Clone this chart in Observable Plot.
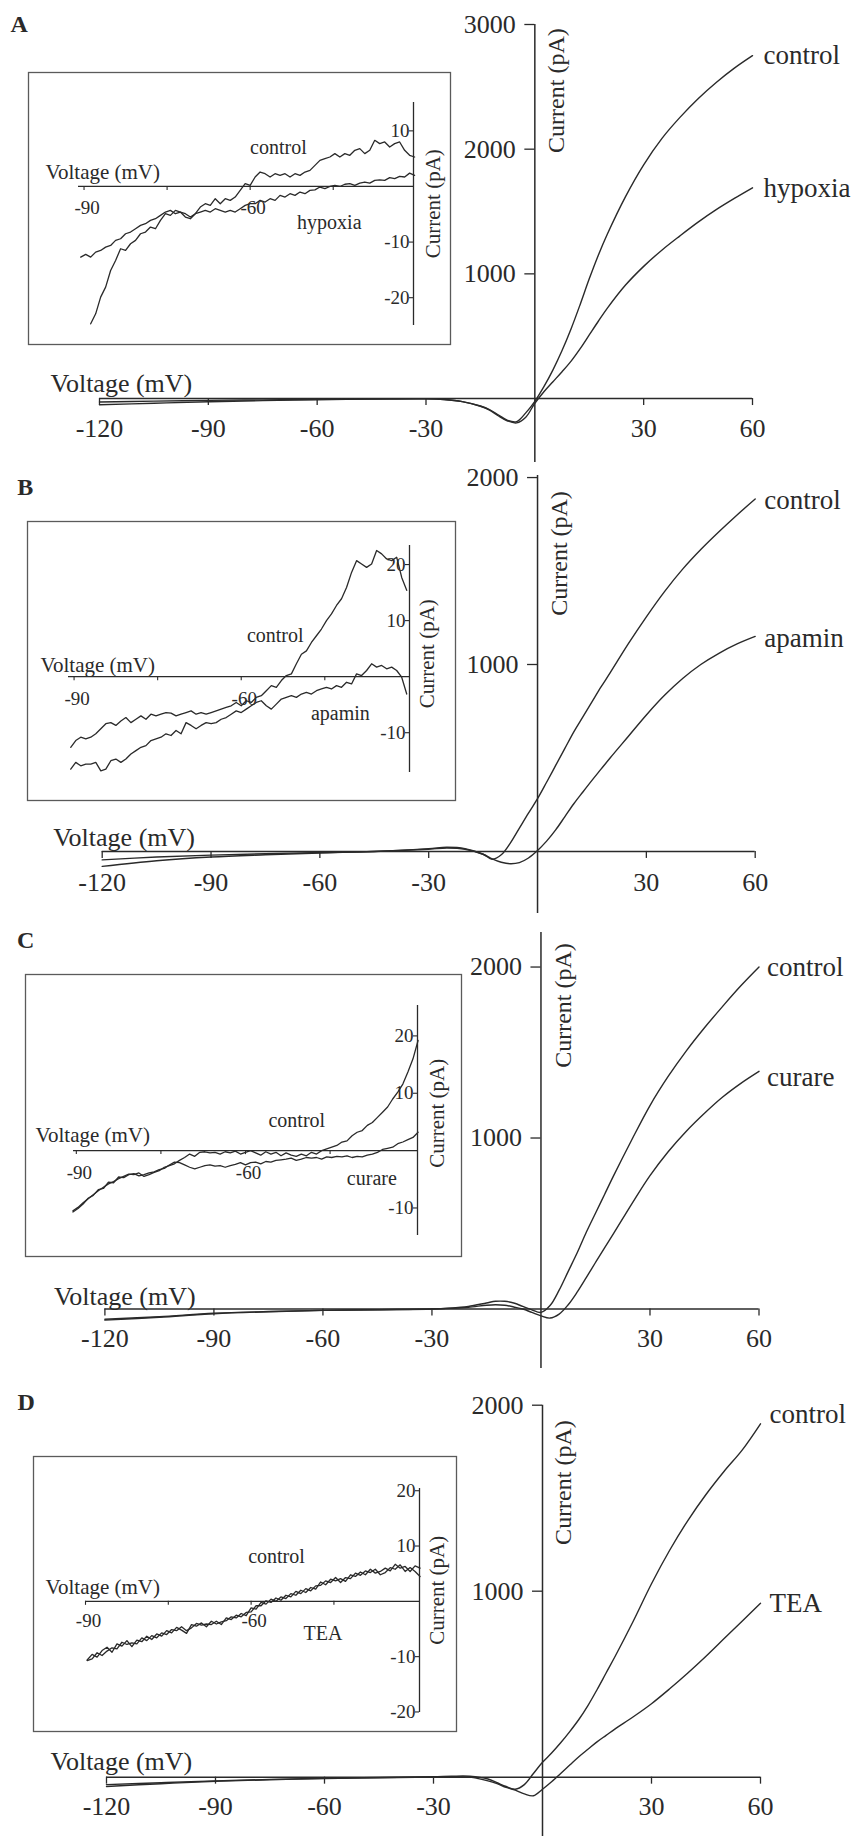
<!DOCTYPE html>
<html>
<head>
<meta charset="utf-8">
<script src="https://cdn.jsdelivr.net/npm/d3@7"></script>
<script src="https://cdn.jsdelivr.net/npm/@observablehq/plot@0.6"></script>
<style>
html, body { margin: 0; padding: 0; background: #fff; }
#fig { position: relative; width: 855px; height: 1836px; overflow: hidden; background: #fff; }
</style>
</head>
<body>
<div id="fig"></div>
<script>
const FONT = "'Liberation Serif', 'Times New Roman', serif";
const INK = "#2a2a2a";

// ---------- main I–V curves (voltage in mV, current in pA) ----------
const mainV = [-120,-105,-90,-75,-60,-45,-30,-25,-20,-15,-12.5,-10,-7.5,-5,-2.5,0,2.5,5,7.5,10,12.5,15,17.5,20,25,30,35,40,45,50,55,60];
const mainXTicks = [-120,-90,-60,-30,30,60];

const A_control = [-50,-38,-26,-17,-10,-5,-2,-8,-25,-60,-88,-132,-175,-185,-115,-22,95,230,385,560,755,960,1150,1320,1620,1875,2085,2255,2405,2535,2650,2750];
const A_hypoxia = [-28,-21,-15,-11,-7,-4,-2,-8,-25,-62,-92,-140,-180,-195,-150,-38,55,135,215,300,400,510,620,725,910,1060,1190,1305,1415,1515,1605,1690];

const B_control = [-45,-30,-20,-12,-6,0,15,22,15,-15,-42,-18,45,125,205,282,370,460,550,640,720,800,880,955,1110,1255,1390,1510,1615,1710,1800,1885];
const B_apamin  = [-80,-50,-30,-18,-8,0,12,18,12,-15,-40,-58,-66,-60,-35,5,55,115,185,255,318,380,440,500,615,730,835,925,1000,1060,1110,1150];

const C_control = [-60,-45,-25,-15,-8,-4,0,5,15,35,45,45,35,15,-5,-20,20,110,220,330,450,560,670,780,990,1190,1360,1510,1645,1770,1890,2000];
const C_curare  = [-65,-48,-28,-16,-8,-4,0,4,10,22,25,22,12,0,-20,-40,-53,-30,25,100,185,272,358,442,615,780,920,1040,1145,1240,1320,1390];

const D_control = [-40,-30,-20,-12,-6,-2,2,5,5,-10,-30,-50,-65,-40,20,80,130,185,245,310,385,470,560,650,840,1040,1220,1380,1520,1645,1760,1900];
const D_TEA     = [-50,-35,-22,-14,-7,-3,1,3,0,-20,-35,-55,-70,-90,-100,-65,-25,20,65,110,150,190,225,260,325,395,475,560,650,745,840,935];

// ---------- insets (voltage in mV, current in pA) ----------
const insetV = [-90.6,-89.7,-88.8,-87.9,-87.0,-86.1,-85.2,-84.3,-83.4,-82.5,
  -81.6,-80.7,-79.8,-78.9,-78.0,-77.1,-76.2,-75.3,-74.4,-73.5,
  -72.6,-71.7,-70.8,-69.9,-69.0,-68.1,-67.2,-66.3,-65.4,-64.5,
  -63.6,-62.7,-61.8,-60.9,-60.0,-59.1,-58.2,-57.3,-56.4,-55.5,
  -54.6,-53.7,-52.8,-51.9,-51.0,-50.1,-49.2,-48.3,-47.4,-46.5,
  -45.6,-44.7,-43.8,-42.9,-42.0,-41.1,-40.2,-39.3,-38.4,-37.5,
  -36.6,-35.7,-34.8,-33.9,-33.0,-32.1,-31.2,-30.3,-29.4];
const insetXTicks = [-90,-75,-60,-45];
const insetXLabels = [-90,-60];

const Ai_control = [-12.7,-12.2,-12.7,-11.8,-11.5,-10.9,-10.6,-9.7,-9.4,-8.5,-8.2,-7.6,-7.0,-6.7,-6.1,-5.8,-5.2,-4.6,-4.3,-4.9,-4.6,-5.5,-5.8,-4.9,-3.7,-3.1,-3.4,-2.2,-3.1,-2.2,-2.5,-1.9,-0.7,0.5,0.2,1.7,2.6,2.3,1.7,2.3,2.0,2.3,1.7,2.3,2.0,2.6,2.9,3.8,4.7,5.0,5.3,5.9,5.3,5.9,5.6,6.5,6.8,5.9,6.5,8.3,7.7,8.0,7.1,7.7,8.0,6.5,5.6,5.3,null];
const Ai_hypoxia = [null,null,-24.7,-22.9,-19.9,-18.1,-15.1,-13.3,-11.2,-11.5,-10.3,-9.7,-8.5,-8.2,-7.3,-7.6,-6.1,-4.9,-5.2,-4.3,-4.6,-4.9,-5.5,-4.9,-4.6,-4.3,-4.6,-4.0,-4.3,-4.6,-4.3,-4.6,-4.0,-3.4,-3.1,-3.1,-2.5,-2.8,-2.2,-2.5,-1.6,-1.9,-1.3,-1.6,-1.0,-1.3,-0.7,-0.6,-0.1,-0.4,0,0.2,0,0.4,0.5,0.2,0.6,0.8,0.6,1.1,1.2,1.1,1.6,1.4,1.8,1.7,2.4,2.0,null];

const Bi_control = [-12.6,-11.4,-10.8,-11.1,-10.8,-10.2,-9.3,-8.4,-8.2,-8.7,-7.9,-7.3,-8.2,-7.6,-7.0,-7.6,-6.7,-7.0,-6.7,-6.4,-6.5,-7.0,-6.7,-6.4,-6.1,-6.7,-6.4,-6.7,-6.4,-6.1,-5.8,-5.5,-5.2,-4.6,-5.2,-4.3,-4.6,-3.7,-3.4,-2.5,-1.6,-1.9,-0.7,0.2,0.5,2.3,4.0,4.6,6.1,7.3,8.5,10.0,11.2,12.7,13.9,15.9,18.6,20.7,20.1,19.5,20.1,22.5,21.9,21.0,20.7,21.3,17.7,15.4,null];
const Bi_apamin  = [-16.5,-15.3,-15.9,-15.6,-15.6,-15.3,-16.8,-16.5,-15.0,-14.7,-15.3,-14.7,-13.8,-13.2,-12.6,-12.3,-11.4,-11.1,-10.8,-10.2,-10.5,-9.6,-10.2,-8.2,-8.7,-9.3,-8.7,-8.2,-8.4,-8.2,-7.6,-7.3,-6.7,-6.1,-6.4,-5.8,-5.2,-4.6,-4.3,-5.2,-5.8,-4.9,-4.0,-3.7,-3.4,-3.7,-3.1,-2.8,-3.1,-2.5,-2.2,-1.9,-2.2,-1.6,-1.9,-1.0,-1.3,0.5,0.2,1.1,2.3,1.7,2.0,1.4,1.7,1.1,-0.1,-3.1,null];

const Ci_control = [-10.5,-9.9,-9.1,-8.4,-7.7,-7.0,-6.4,-5.8,-5.4,-4.9,-4.5,-4.1,-4.2,-3.9,-4.5,-4.2,-3.8,-3.5,-2.9,-2.6,-2.3,-1.7,-1.2,-0.6,-1.0,-0.3,-0.2,-0.4,-0.3,-0.6,-0.2,-0.4,-0.1,-0.6,-0.3,0,-0.4,-0.8,-0.2,-0.6,-0.3,-0.9,-0.4,-0.8,-1.0,-0.6,-0.9,-0.3,-0.6,0,0.3,0.6,0.9,1.5,1.7,2.6,3.2,3.5,4.4,4.9,5.8,6.7,7.6,9.0,10.2,11.6,13.7,16.0,19.2];
const Ci_curare  = [-10.7,-10.1,-9.3,-8.3,-7.8,-6.8,-6.6,-5.5,-5.6,-4.6,-4.7,-4.2,-4.0,-4.4,-4.2,-3.9,-3.7,-3.3,-3.1,-2.5,-2.0,-2.1,-2.5,-2.9,-3.2,-2.9,-2.6,-2.5,-2.7,-2.6,-2.9,-2.6,-2.4,-2.1,-2.5,-2.1,-2.0,-2.3,-1.9,-2.0,-1.7,-1.6,-1.5,-1.3,-1.7,-1.5,-1.2,-1.3,-1.2,-1.5,-1.1,-1.2,-1.0,-1.1,-0.9,-1.2,-1.0,-1.1,-0.8,-0.6,-0.3,0.2,0.4,0.6,1.2,1.5,1.9,2.3,3.2];

const Di_control = [null,-10.6,-9.6,-10.1,-8.9,-8.3,-9.2,-7.7,-8.1,-7.1,-8.2,-7.0,-7.3,-6.3,-6.9,-5.9,-6.3,-5.3,-5.7,-4.7,-5.2,-5.8,-4.2,-4.5,-3.9,-4.6,-3.6,-4.1,-3.7,-3.5,-2.8,-3.0,-2.2,-2.6,-1.2,-1.4,-0.2,-0.5,0.4,0,0.8,0.5,1.4,1.1,2.0,1.6,2.5,2.2,3.5,3.0,4.0,3.7,4.1,3.6,4.8,4.5,5.3,4.8,5.8,5.1,5.4,6.0,5.5,6.7,6.0,6.3,5.4,6.4,6.0];
const Di_TEA     = [null,-10.7,-10.4,-9.3,-9.8,-9.0,-8.4,-8.6,-7.4,-7.8,-7.5,-7.7,-6.6,-7.1,-6.2,-6.6,-5.7,-6.0,-5.1,-5.3,-4.6,-5.3,-4.8,-4.0,-4.3,-4.1,-4.2,-3.6,-4.2,-3.0,-3.3,-2.5,-2.8,-2.0,-1.9,-0.8,-0.8,0.1,-0.2,0.6,0.2,1.1,0.8,1.8,1.4,2.3,1.9,2.8,2.9,3.7,3.4,4.3,3.4,4.3,4.1,5.1,4.7,5.5,5.2,5.8,4.8,5.2,6.1,5.8,6.6,5.4,6.1,5.4,4.5];

const fig = document.getElementById("fig");
const rows = (xs, ys) => xs.map((v, k) => ({v, i: ys[k]}));
const txt = {fontFamily: FONT, fill: INK};

function place(svg, left, top) {
  svg.style.position = "absolute";
  svg.style.left = left + "px";
  svg.style.top = top + "px";
  svg.style.background = "transparent";
  svg.style.overflow = "visible";
  svg.style.maxWidth = "none";
  fig.appendChild(svg);
}

function mainPanel(c) {
  const n = mainV.length - 1;
  const svg = Plot.plot({
    width: 855, height: c.height,
    marginLeft: c.mL, marginRight: c.mR, marginTop: c.mT, marginBottom: c.mB,
    x: {domain: [-120, 60], axis: null},
    y: {domain: c.yDom, axis: null},
    marks: [
      Plot.ruleY([0], {x1: -120, x2: 60, stroke: INK, strokeWidth: 1.5}),
      Plot.ruleX([0], {y1: c.yDom[0], y2: c.yDom[1], stroke: INK, strokeWidth: 1.5}),
      Plot.ruleX(mainXTicks, {x: d => d, y1: 0, y2: 0, insetBottom: -7, stroke: INK, strokeWidth: 1.3}),
      Plot.ruleY(c.yTicks, {y: d => d, x1: 0, x2: 0, insetLeft: -10, stroke: INK, strokeWidth: 1.3}),
      Plot.text(mainXTicks, {x: d => d, y: 0, text: d => String(d), dy: c.tickDy, fontSize: 26, ...txt}),
      Plot.text(c.yTicks, {x: 0, y: d => d, text: d => String(d), textAnchor: "end", dx: -19, fontSize: 26, ...txt}),
      Plot.text(["Voltage (mV)"], {x: -120, y: 0, text: d => d, textAnchor: "start", dx: c.vDx, dy: c.vDy, fontSize: 26, ...txt}),
      Plot.text(["Current (pA)"], {x: 0, y: c.curY, text: d => d, rotate: -90, dx: c.curDx, fontSize: 24, ...txt}),
      Plot.line(rows(mainV, c.s1), {x: "v", y: "i", curve: "catmull-rom", stroke: INK, strokeWidth: 1.4}),
      Plot.line(rows(mainV, c.s2), {x: "v", y: "i", curve: "catmull-rom", stroke: INK, strokeWidth: 1.4}),
      Plot.text([{v: 60, i: c.s1[n], t: c.n1}], {x: "v", y: "i", text: "t", textAnchor: "start", dx: c.lDx, dy: c.l1dy, fontSize: 27, ...txt}),
      Plot.text([{v: 60, i: c.s2[n], t: c.n2}], {x: "v", y: "i", text: "t", textAnchor: "start", dx: c.lDx, dy: c.l2dy, fontSize: 27, ...txt}),
      Plot.text([c.letter], {frameAnchor: "top-left", text: d => d, textAnchor: "start", lineAnchor: "middle", dx: c.letDx, dy: c.letDy, fontSize: 24, fontWeight: "bold", ...txt})
    ]
  });
  place(svg, 0, c.top);
}

function insetPanel(c) {
  const ax = c.xDom[1];
  const svg = Plot.plot({
    width: c.w, height: c.h,
    marginLeft: c.mL, marginRight: c.mR, marginTop: c.mT, marginBottom: c.mB,
    x: {domain: c.xDom, axis: null},
    y: {domain: c.yDom, axis: null},
    marks: [
      Plot.frame({stroke: "#5a5a5a", strokeWidth: 1.3, insetLeft: -(c.mL - 1), insetRight: -(c.mR - 1), insetTop: -(c.mT - 1), insetBottom: -(c.mB - 1)}),
      Plot.ruleY([0], {x1: c.xDom[0], x2: ax, stroke: INK, strokeWidth: 1.3}),
      Plot.ruleX([ax], {y1: c.yDom[0], y2: c.yDom[1], stroke: INK, strokeWidth: 1.3}),
      Plot.ruleX(insetXTicks, {x: d => d, y1: 0, y2: 0, insetBottom: -4, stroke: INK, strokeWidth: 1.1}),
      Plot.ruleY(c.yTicks, {y: d => d, x1: ax, x2: ax, insetLeft: -4, stroke: INK, strokeWidth: 1.1}),
      Plot.text(insetXLabels, {x: d => d, y: 0, text: d => String(d), dy: c.xlDy, dx: 3, fontSize: 19, ...txt}),
      Plot.text(c.yTicks, {x: ax, y: d => d, text: d => String(d), textAnchor: "end", dx: -4, fontSize: 19, ...txt}),
      Plot.text(["Voltage (mV)"], {x: c.xDom[0], y: 0, text: d => d, textAnchor: "start", dx: c.vDx, dy: c.vDy, fontSize: 21, ...txt}),
      Plot.text(["Current (pA)"], {x: ax, y: c.curY, text: d => d, rotate: -90, dx: c.curDx, fontSize: 21, ...txt}),
      Plot.line(rows(insetV, c.s1), {x: "v", y: "i", stroke: INK, strokeWidth: 1.3}),
      Plot.line(rows(insetV, c.s2), {x: "v", y: "i", stroke: INK, strokeWidth: 1.3}),
      Plot.text(c.labels, {x: "v", y: "i", text: "t", fontSize: 20, ...txt})
    ]
  });
  place(svg, c.left, c.top);
}

// Panel A
mainPanel({top: 0, height: 470, mL: 99, mR: 103, mT: 24, mB: 8, yDom: [-513, 3000], yTicks: [1000, 2000, 3000],
  tickDy: 30, vDx: -49, vDy: -15, curY: 2470, curDx: 21,
  s1: A_control, s2: A_hypoxia, n1: "control", n2: "hypoxia", lDx: 11, l1dy: 0, l2dy: 1,
  letter: "A", letDx: -89, letDy: 0});
// Panel B
mainPanel({top: 470, height: 460, mL: 101.7, mR: 100.3, mT: 5, mB: 17, yDom: [-332, 2011], yTicks: [1000, 2000],
  tickDy: 31, vDx: -49, vDy: -14, curY: 1594, curDx: 22,
  s1: B_control, s2: B_apamin, n1: "control", n2: "apamin", lDx: 9, l1dy: 1, l2dy: 2,
  letter: "B", letDx: -85, letDy: 12});
// Panel C
mainPanel({top: 930, height: 470, mL: 104.4, mR: 96.5, mT: 2, mB: 32, yDom: [-348, 2202], yTicks: [1000, 2000],
  tickDy: 30, vDx: -51, vDy: -12, curY: 1775, curDx: 22,
  s1: C_control, s2: C_curare, n1: "control", n2: "curare", lDx: 8, l1dy: 0, l2dy: 6,
  letter: "C", letDx: -88, letDy: 8});
// Panel D
mainPanel({top: 1400, height: 436, mL: 106, mR: 95, mT: 4.7, mB: 0, yDom: [-319, 2000], yTicks: [1000, 2000],
  tickDy: 30, vDx: -56, vDy: -15, curY: 1584, curDx: 21,
  s1: D_control, s2: D_TEA, n1: "control", n2: "TEA", lDx: 9, l1dy: -9, l2dy: 0,
  letter: "D", letDx: -89, letDy: -2.7});

// Insets
insetPanel({left: 27, top: 71, w: 424, h: 274, mL: 51, mR: 38, mT: 31, mB: 20,
  xDom: [-91, -30.5], yDom: [-25, 15.1], yTicks: [10, -10, -20], xlDy: 21,
  vDx: -33, vDy: -14, curY: -3.1, curDx: 20, s1: Ai_control, s2: Ai_hypoxia,
  labels: [{v: -54.9, i: 7.0, t: "control"}, {v: -45.7, i: -6.5, t: "hypoxia"}]});
insetPanel({left: 26, top: 520, w: 430, h: 281, mL: 42, mR: 47, mT: 25, mB: 29,
  xDom: [-91, -29.8], yDom: [-17.1, 23.4], yTicks: [20, 10, -10], xlDy: 22,
  vDx: -28, vDy: -11, curY: 4.1, curDx: 18, s1: Bi_control, s2: Bi_apamin,
  labels: [{v: -53.9, i: 7.3, t: "control"}, {v: -42.2, i: -6.6, t: "apamin"}]});
insetPanel({left: 24, top: 973, w: 438, h: 284, mL: 49, mR: 45, mT: 32, mB: 22,
  xDom: [-90.5, -29.5], yDom: [-14.8, 25.3], yTicks: [20, 10, -10], xlDy: 22,
  vDx: -38, vDy: -15, curY: 6.5, curDx: 20, s1: Ci_control, s2: Ci_curare,
  labels: [{v: -50.9, i: 5.2, t: "control"}, {v: -37.6, i: -4.9, t: "curare"}]});
insetPanel({left: 32, top: 1455, w: 425, h: 277, mL: 53, mR: 38, mT: 33, mB: 20,
  xDom: [-90, -29.5], yDom: [-20.1, 20.4], yTicks: [20, 10, -10, -20], xlDy: 20,
  vDx: -40, vDy: -14, curY: 2.0, curDx: 18, s1: Di_control, s2: Di_TEA,
  labels: [{v: -55.4, i: 8.0, t: "control"}, {v: -47, i: -5.8, t: "TEA"}]});
</script>
</body>
</html>
